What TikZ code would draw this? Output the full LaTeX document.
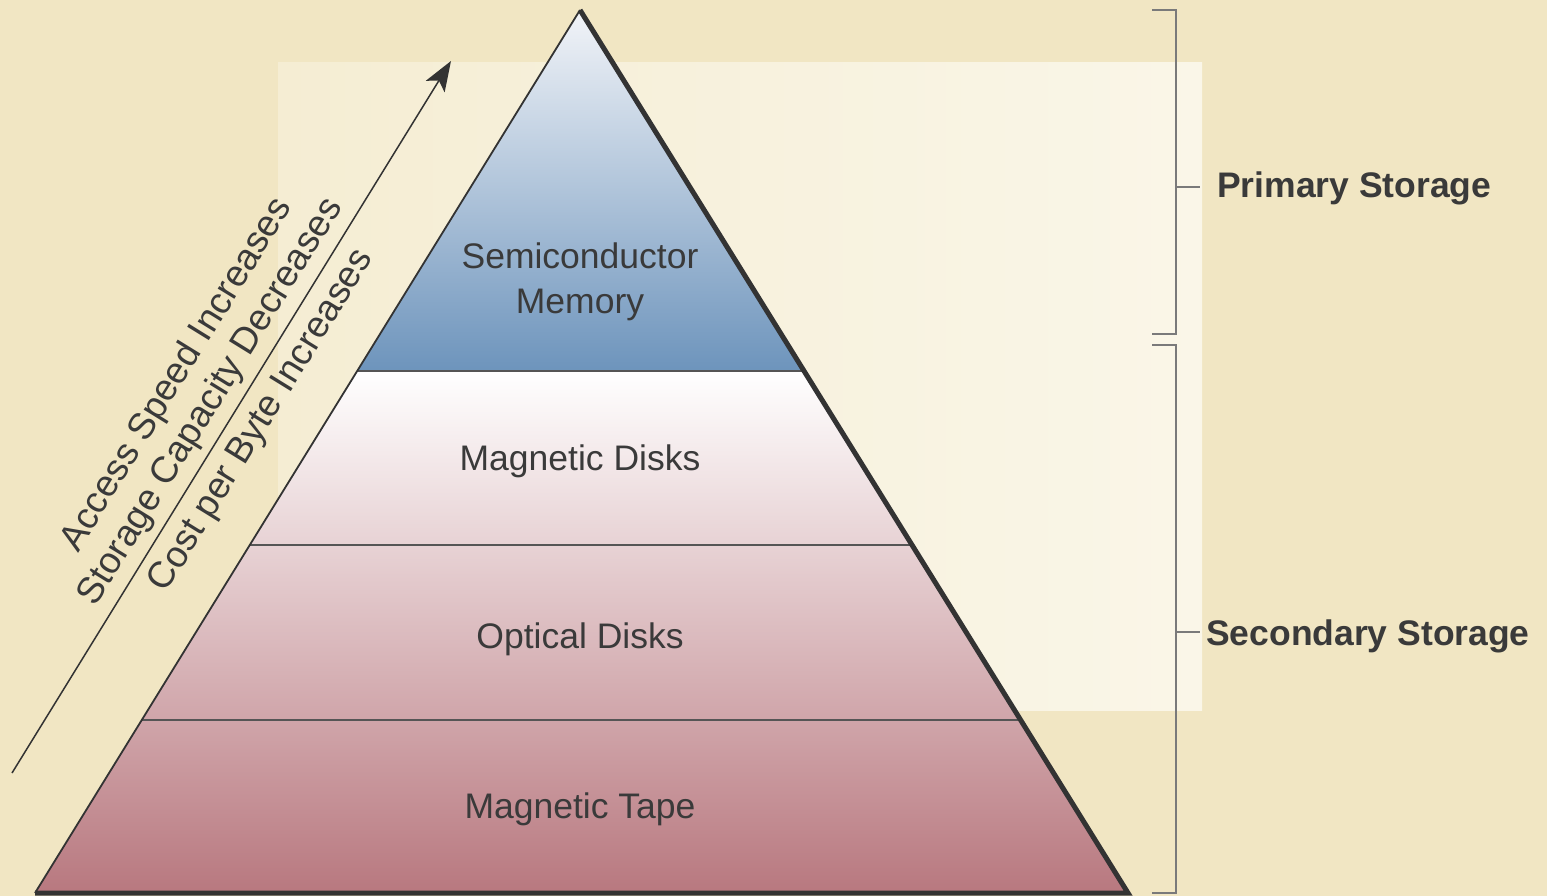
\documentclass[tikz,border=0pt]{standalone}
\usepackage{fontspec}
\setmainfont{Liberation Sans}
\usetikzlibrary{arrows.meta,calc}

\definecolor{pagebg}{HTML}{F1E6C3}
\definecolor{panelL}{HTML}{F5EDD3}
\definecolor{panelR}{HTML}{FAF6E8}
\definecolor{blueTop}{HTML}{F2F4F8}
\definecolor{blueBot}{HTML}{6D94BC}
\definecolor{pinkBot}{HTML}{B8787F}
\definecolor{ink}{HTML}{3A3A3A}
\definecolor{edge}{HTML}{333333}
\definecolor{divider}{HTML}{555555}
\definecolor{bracket}{HTML}{7A7A7A}

\tikzset{
  tier/.style={font=\fontsize{35.5}{42}\selectfont, text=ink, inner sep=0pt, anchor=base},
  trend/.style={font=\fontsize{37}{44}\selectfont, text=ink, inner sep=0pt, rotate=58.3, anchor=center},
  level/.style={font=\fontsize{35.5}{42}\selectfont\bfseries, text=ink, inner sep=0pt, anchor=base west},
  bracketline/.style={draw=bracket, line width=2.5pt},
  layerline/.style={draw=divider, line width=2.5pt},
}

\begin{document}
\begin{tikzpicture}[x=1pt,y=-1pt]
  % page and light panel
  \fill[pagebg] (0,0) rectangle (1547,896);
  \useasboundingbox (0,0) rectangle (1547,896);
  \shade[left color=panelL, right color=panelR] (278,63) rectangle (1202,710);

  % pyramid corners and layer boundaries
  \coordinate (apex) at (580,10);
  \coordinate (bl) at (35,893);
  \coordinate (br) at (1128,893);
  \coordinate (l1) at ($(apex)!0.4088!(bl)$);
  \coordinate (r1) at ($(apex)!0.4088!(br)$);
  \coordinate (l2) at ($(apex)!0.6059!(bl)$);
  \coordinate (r2) at ($(apex)!0.6059!(br)$);
  \coordinate (l3) at ($(apex)!0.8041!(bl)$);
  \coordinate (r3) at ($(apex)!0.8041!(br)$);

  % fills
  \shade[top color=blueTop, bottom color=blueBot] (apex) -- (r1) -- (l1) -- cycle;
  \shade[top color=white, bottom color=pinkBot] (l1) -- (r1) -- (br) -- (bl) -- cycle;

  % layer dividers
  \draw[layerline] (l1) -- (r1);
  \draw[layerline] (l2) -- (r2);
  \draw[layerline] (l3) -- (r3);

  % outline: thin left side, heavy right side and base
  \draw[edge, line width=1.8pt] (apex) -- (bl);
  \draw[edge, line width=5pt, line join=miter] (apex) -- (br) -- (bl);

  % layer labels
  \node[tier] (semi) at (580,268) {Semiconductor};
  \node[tier] (mem) at (580,313) {Memory};
  \node[tier] (mdisk) at (580,470) {Magnetic Disks};
  \node[tier] (odisk) at (580,648) {Optical Disks};
  \node[tier] (tape) at (580,818) {Magnetic Tape};

  % trend arrow and its captions
  \coordinate (arrowfoot) at (12,773);
  \coordinate (arrowtip) at (451,61);
  \draw[edge, line width=1.5pt, -{Stealth[length=30pt,width=22pt,inset=7pt]}] (arrowfoot) -- (arrowtip);
  \node[trend] (speed) at (177,375) {Access Speed Increases};
  \node[trend] (capacity) at (211,402) {Storage Capacity Decreases};
  \node[trend] (cost) at (262,421) {Cost per Byte Increases};

  % primary storage bracket
  \coordinate (pTop) at (1176,10);
  \coordinate (pBot) at (1176,334);
  \coordinate (pMid) at (1176,187);
  \draw[bracketline] (1152,10) -- (pTop) -- (pBot) -- (1152,334);
  \coordinate (pTick) at (1200,187);
  \draw[bracketline] (pMid) -- (pTick);
  \node[level] (primary) at (1217,198) {Primary Storage};

  % secondary storage bracket
  \coordinate (sTop) at (1176,345);
  \coordinate (sBot) at (1176,893);
  \coordinate (sMid) at (1176,632);
  \draw[bracketline] (1152,345) -- (sTop) -- (sBot) -- (1152,893);
  \coordinate (sTick) at (1200,632);
  \draw[bracketline] (sMid) -- (sTick);
  \node[level] (secondary) at (1206,645) {Secondary Storage};
\end{tikzpicture}
\end{document}
